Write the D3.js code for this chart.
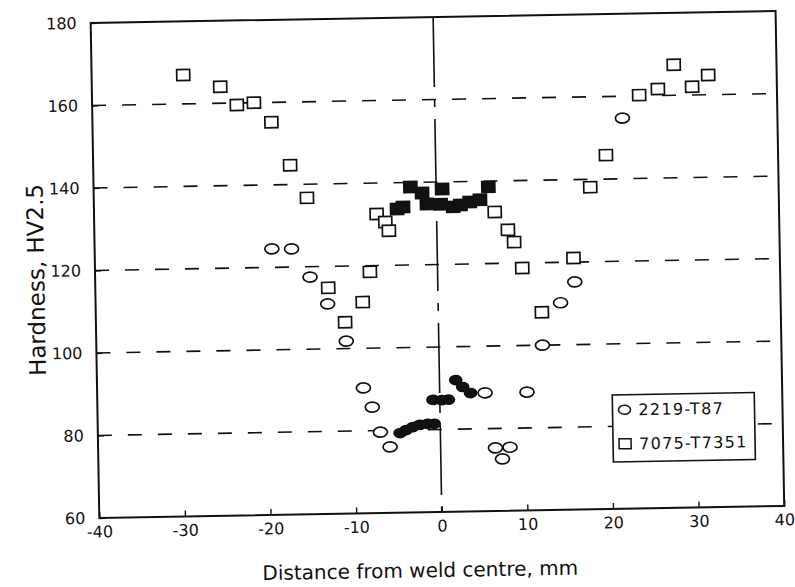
<!DOCTYPE html>
<html>
<head>
<meta charset="utf-8">
<script src="https://cdn.jsdelivr.net/npm/d3@7"></script>
<style>
  body { margin: 0; background: #fff; }
  svg { display: block; }
  text { font-family: "DejaVu Sans", sans-serif; fill: #111; }
</style>
</head>
<body>
<svg id="chart" width="795" height="587"></svg>
<script>
// Microhardness traverse across a weld: distance from weld centre (mm) vs HV2.5

const xTicks = [-40, -30, -20, -10, 0, 10, 20, 30, 40];
const yTicks = [60, 80, 100, 120, 140, 160, 180];
const gridLevels = [80, 100, 120, 140, 160];
const seriesNames = ["2219-T87", "7075-T7351"];

// 2219-T87: parent plate and heat-affected zone (open circles)
const al2219Open = [
  [-19.3, 124.5], [-17.0, 124.4], [-14.9, 117.5], [-12.9, 110.9], [-10.8, 101.8],
  [-8.9, 90.4], [-7.9, 85.7], [-7.0, 79.6], [-5.9, 76.0],
  [5.3, 88.7], [10.2, 88.7], [6.4, 75.3], [8.1, 75.4], [7.2, 72.6],
  [12.1, 100.0], [14.3, 110.2], [16.0, 115.2], [21.9, 154.7]
];
// 2219-T87: weld nugget (filled circles)
const al2219Weld = [
  [-4.7, 79.3], [-4.0, 80.0], [-3.2, 80.7], [-2.4, 81.2], [-1.5, 81.4], [-0.7, 81.4],
  [-0.8, 87.2], [0.2, 87.1], [1.0, 87.2], [1.9, 91.9], [2.7, 90.2], [3.6, 88.7]
];
// 7075-T7351: parent plate and heat-affected zone (open squares)
const al7075Open = [
  [-29.3, 167.0], [-25.0, 164.0], [-23.1, 159.5], [-21.1, 160.0], [-19.1, 155.2],
  [-17.0, 144.7], [-15.1, 136.7], [-7.9, 118.5], [-12.8, 114.8], [-8.8, 111.2],
  [-10.9, 106.4], [-7.0, 132.5], [-6.0, 130.5], [-5.6, 128.4],
  [6.8, 132.5], [8.3, 128.1], [9.0, 125.1], [9.9, 118.8], [15.9, 121.0], [12.1, 108.0],
  [18.0, 138.1], [19.9, 145.8], [23.9, 160.2], [26.1, 161.6], [28.0, 167.4],
  [30.1, 162.0], [32.0, 164.8]
];
// 7075-T7351: weld nugget (filled squares)
const al7075Weld = [
  [-4.6, 133.6], [-3.9, 134.1], [-3.0, 138.9], [-1.65, 137.4], [-1.1, 134.7],
  [0.5, 134.6], [0.7, 138.3], [1.95, 133.9], [2.8, 134.3], [3.9, 135.0],
  [5.1, 135.5], [6.1, 138.6]
];

const W = 795, H = 587;
const plotL = 95, plotR = 780, plotT = 17, plotB = 512;

const x = d3.scaleLinear().domain([-40, 40]).range([plotL, plotR]);
const y = d3.scaleLinear().domain([60, 180]).range([plotB, plotT]);

const svg = d3.select("#chart");
svg.append("rect").attr("width", W).attr("height", H).attr("fill", "#fff");

// whole figure sits slightly skewed on the page
const g = svg.append("g").attr("transform", "rotate(-1, 437, 268)");

// dashed reference levels
g.append("g").selectAll("line").data(gridLevels).join("line")
  .attr("x1", plotL).attr("x2", plotR)
  .attr("y1", d => y(d)).attr("y2", d => y(d))
  .attr("stroke", "#111").attr("stroke-width", 1.6)
  .attr("stroke-dasharray", "14,16");

// weld centre line
g.append("line")
  .attr("x1", x(0)).attr("x2", x(0)).attr("y1", plotT).attr("y2", plotB)
  .attr("stroke", "#111").attr("stroke-width", 1.6)
  .attr("stroke-dasharray", "70,12,8,12");

// axes (ticks pointing inward)
const fmt = d => String(d);
const xAxis = g.append("g").attr("transform", `translate(0,${plotB})`)
  .call(d3.axisBottom(x).tickValues(xTicks).tickFormat(fmt)
    .tickSizeInner(-6).tickSizeOuter(0).tickPadding(8));
const yAxis = g.append("g").attr("transform", `translate(${plotL},0)`)
  .call(d3.axisLeft(y).tickValues(yTicks).tickFormat(fmt)
    .tickSizeInner(-6).tickSizeOuter(0).tickPadding(14));
[xAxis, yAxis].forEach(a => {
  a.select(".domain").remove();
  a.selectAll("line").attr("stroke", "#111").attr("stroke-width", 1.4);
  a.selectAll("text").attr("font-size", 16).attr("font-family", "DejaVu Sans, sans-serif").attr("fill", "#111");
});

// frame
g.append("rect")
  .attr("x", plotL).attr("y", plotT).attr("width", plotR - plotL).attr("height", plotB - plotT)
  .attr("fill", "none").attr("stroke", "#111").attr("stroke-width", 2);

// markers
const ell = (sel, data, filled) => sel.selectAll(null).data(data).join("ellipse")
  .attr("cx", d => x(d[0])).attr("cy", d => y(d[1]))
  .attr("rx", filled ? 6 : 7).attr("ry", filled ? 4.5 : 5)
  .attr("fill", filled ? "#111" : "#fff")
  .attr("stroke", "#111").attr("stroke-width", 1.7);
const sq = (sel, data, filled) => sel.selectAll(null).data(data).join("rect")
  .attr("x", d => x(d[0]) - 6.5).attr("y", d => y(d[1]) - 5.5)
  .attr("width", 13).attr("height", 11)
  .attr("fill", filled ? "#111" : "#fff")
  .attr("stroke", "#111").attr("stroke-width", 1.7);

const marks = g.append("g");
sq(marks.append("g"), al7075Open, false);
sq(marks.append("g"), al7075Weld, true);
ell(marks.append("g"), al2219Open, false);
ell(marks.append("g"), al2219Weld, true);

// legend
const lg = g.append("g");
lg.append("rect").attr("x", 610).attr("y", 398).attr("width", 142).attr("height", 67)
  .attr("fill", "#fff").attr("stroke", "#111").attr("stroke-width", 1.6);
const legendRows = seriesNames.map((name, i) => ({ name, i }));
const row = lg.selectAll(null).data(legendRows).join("g")
  .attr("transform", d => `translate(622,${413 + d.i * 34})`);
row.filter(d => d.i === 0).append("ellipse")
  .attr("rx", 6).attr("ry", 4.5).attr("fill", "#fff").attr("stroke", "#111").attr("stroke-width", 1.5);
row.filter(d => d.i === 1).append("rect")
  .attr("x", -6).attr("y", -5).attr("width", 12).attr("height", 10)
  .attr("fill", "#fff").attr("stroke", "#111").attr("stroke-width", 1.5);
row.append("text").attr("x", 14).attr("dy", "0.36em")
  .attr("font-size", 16).attr("letter-spacing", 1.3)
  .text(d => d.name);

// axis titles
g.append("text").attr("x", 415).attr("y", 577).attr("text-anchor", "middle")
  .attr("font-size", 20).text("Distance from weld centre, mm");
g.append("text").attr("transform", "translate(36,273) rotate(-90)")
  .attr("text-anchor", "middle").attr("dy", "0.35em")
  .attr("font-size", 23).text("Hardness, HV2.5");
</script>
</body>
</html>
